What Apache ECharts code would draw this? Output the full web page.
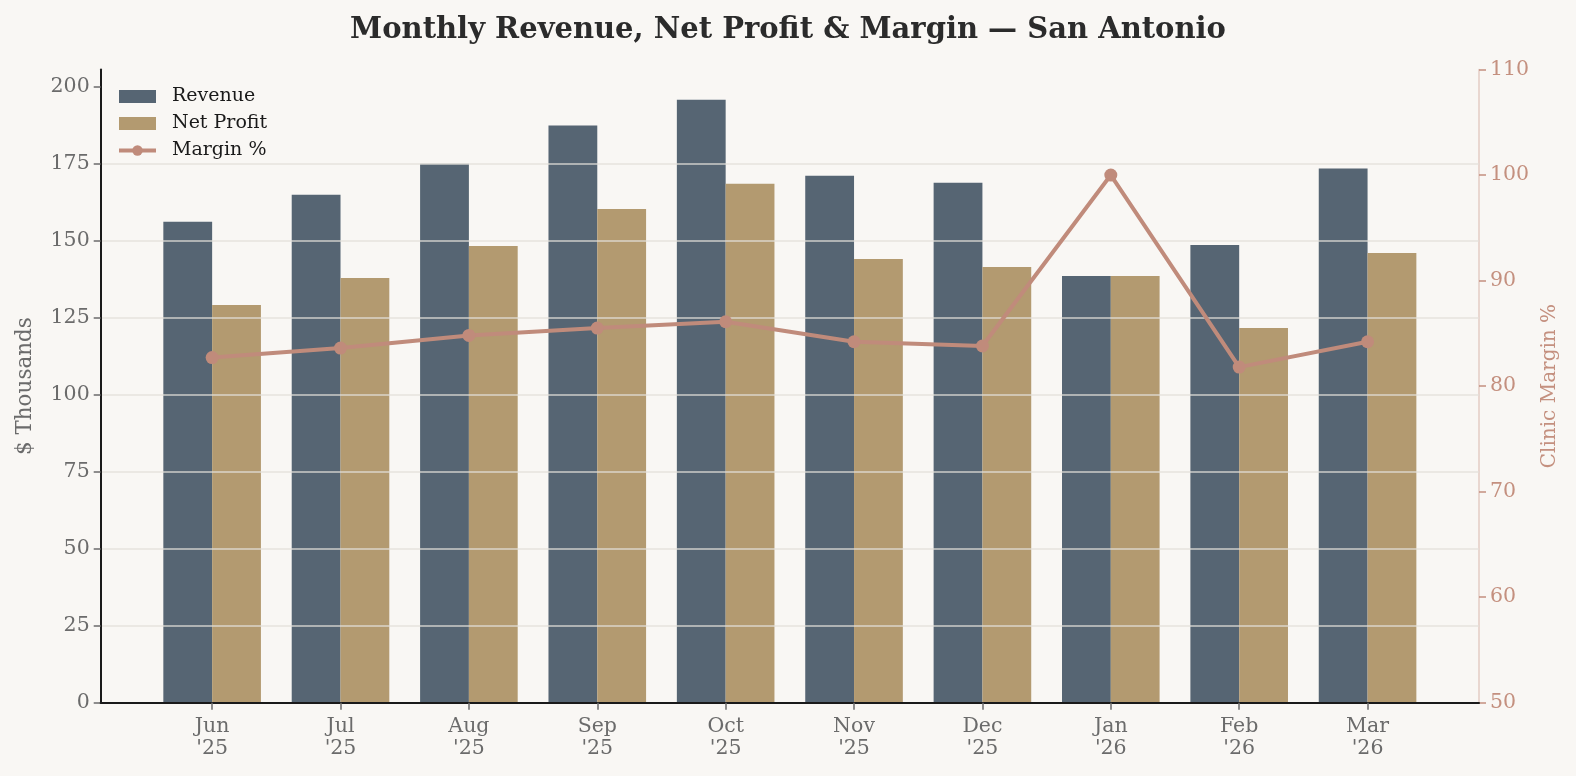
<!DOCTYPE html>
<html>
<head>
<meta charset="utf-8">
<script src="https://cdn.jsdelivr.net/npm/echarts@6/dist/echarts.min.js"></script>
<style>
html, body { margin: 0; padding: 0; background: #f9f7f4; }
#chart { width: 1576px; height: 776px; }
</style>
</head>
<body>
<div id="chart"></div>
<script>
// 数据
var months = ['Jun', 'Jul', 'Aug', 'Sep', 'Oct', 'Nov', 'Dec', 'Jan', 'Feb', 'Mar'];
var years = ["'25", "'25", "'25", "'25", "'25", "'25", "'25", "'26", "'26", "'26"];
var revenue = [156.2, 165.0, 175.1, 187.5, 195.9, 171.2, 168.9, 138.6, 148.7, 173.5];
var netProfit = [129.2, 138.0, 148.4, 160.4, 168.6, 144.1, 141.5, 138.6, 121.7, 146.1];
var margin = [82.7, 83.6, 84.8, 85.5, 86.1, 84.2, 83.8, 100.0, 81.8, 84.2];
var leftTicks = [0, 25, 50, 75, 100, 125, 150, 175, 200];
var rightTicks = [50, 60, 70, 80, 90, 100, 110];

var font = 'DejaVu Serif';
var idx = months.map(function (m, i) { return i; });
function pairs(arr) {
	return arr.map(function (v, i) { return [i, v]; });
}

var myChart = echarts.init(document.getElementById('chart'));
var option = {
	backgroundColor: '#f9f7f4',
	animation: false,
	textStyle: { fontFamily: font },
	title: {
		text: 'Monthly Revenue, Net Profit & Margin \u2014 San Antonio',
		left: 'center',
		top: 11,
		textStyle: { fontFamily: font, fontWeight: 'bold', fontSize: 29, color: '#2b2b2b' }
	},
	legend: {
		orient: 'vertical',
		left: 112,
		top: 82,
		itemWidth: 37,
		itemHeight: 13,
		itemGap: 8,
		textStyle: { fontFamily: font, fontSize: 19, color: '#1a1a1a', padding: [0, 0, 0, 11] },
		data: [
			{ name: 'Revenue', icon: 'rect' },
			{ name: 'Net Profit', icon: 'rect' },
			{ name: 'Margin %', lineStyle: { width: 4 } }
		]
	},
	grid: { left: 100.7, right: 97, top: 69.5, bottom: 73.3 },
	xAxis: {
		type: 'value',
		min: -0.868,
		max: 9.868,
		z: 4,
		axisLine: { lineStyle: { color: '#1a1a1a', width: 2 } },
		axisTick: { customValues: idx, length: 7, lineStyle: { color: '#6b6b6b', width: 1.5 } },
		axisLabel: {
			customValues: idx,
			margin: 13,
			color: '#6b6b6b',
			fontFamily: font,
			fontSize: 20.5,
			lineHeight: 22,
			formatter: function (v) {
				var i = Math.round(v);
				return months[i] + '\n' + years[i];
			}
		},
		splitLine: { show: false }
	},
	yAxis: [
		{
			type: 'value',
			min: 0,
			max: 205.7,
			interval: 25,
			z: 3,
			name: '$ Thousands',
			nameLocation: 'middle',
			nameGap: 64,
			nameTextStyle: { fontFamily: font, fontSize: 21.5, color: '#6b6b6b' },
			axisLine: { show: true, onZero: false, lineStyle: { color: '#1a1a1a', width: 2 } },
			axisTick: { show: true, customValues: leftTicks, length: 7, lineStyle: { color: '#6b6b6b', width: 1.5 } },
			axisLabel: { customValues: leftTicks, margin: 11, color: '#6b6b6b', fontFamily: font, fontSize: 20.5 },
			splitLine: {
				show: true,
				showMinLine: false,
				showMaxLine: false,
				lineStyle: { color: 'rgba(226,223,216,0.85)', width: 1.5 }
			}
		},
		{
			type: 'value',
			min: 50,
			max: 110,
			interval: 10,
			position: 'right',
			name: 'Clinic Margin %',
			nameLocation: 'middle',
			nameGap: 60,
			nameRotate: 90,
			nameTextStyle: { fontFamily: font, fontSize: 20, color: '#c4907f' },
			axisLine: { show: true, onZero: false, lineStyle: { color: '#e3cdc5', width: 1.5 } },
			axisTick: { show: true, length: 7, lineStyle: { color: '#c4907f', width: 1.5 } },
			axisLabel: { customValues: rightTicks, margin: 11, color: '#c4907f', fontFamily: font, fontSize: 20.5 },
			splitLine: { show: false }
		}
	],
	series: [
		{
			name: 'Revenue',
			type: 'bar',
			barWidth: 48.8,
			barGap: '0%',
			itemStyle: { color: '#566573' },
			data: pairs(revenue)
		},
		{
			name: 'Net Profit',
			type: 'bar',
			barWidth: 48.8,
			barGap: '0%',
			itemStyle: { color: '#b39a70' },
			data: pairs(netProfit)
		},
		{
			name: 'Margin %',
			type: 'line',
			yAxisIndex: 1,
			z: 10,
			symbol: 'circle',
			symbolSize: 13,
			lineStyle: { color: '#c08b7b', width: 4 },
			itemStyle: { color: '#c08b7b' },
			data: pairs(margin)
		}
	]
};
myChart.setOption(option);
</script>
</body>
</html>
